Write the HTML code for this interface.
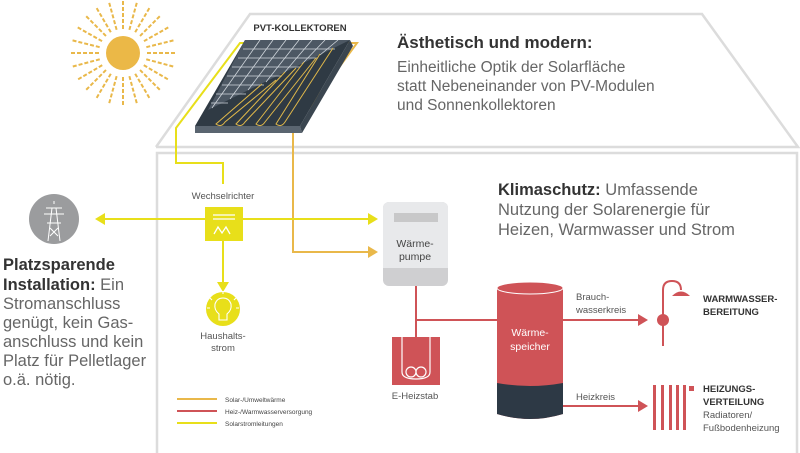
<!DOCTYPE html>
<html><head><meta charset="utf-8"><style>
body{margin:0;background:#fff;}
svg{display:block;font-family:"Liberation Sans",sans-serif;}
</style></head><body>
<svg width="800" height="453" viewBox="0 0 800 453" xmlns="http://www.w3.org/2000/svg">
<!-- house -->
<polyline points="156,147 250,14 702,14 798,147 156,147" fill="none" stroke="#dcdcdc" stroke-width="2.5"/>
<polyline points="157,453 157,153 797,153 797,453" fill="none" stroke="#dcdcdc" stroke-width="2.5"/>
<!-- sun -->
<g stroke="#e9b84a" stroke-width="2" stroke-dasharray="4,2">
<line x1="123" y1="53" x2="123" y2="0"/><line x1="123" y1="53" x2="137" y2="2"/><line x1="123" y1="53" x2="150" y2="7"/><line x1="123" y1="53" x2="160" y2="16"/><line x1="123" y1="53" x2="169" y2="27"/><line x1="123" y1="53" x2="175" y2="40"/>
<line x1="123" y1="53" x2="177" y2="53"/><line x1="123" y1="53" x2="175" y2="67"/><line x1="123" y1="53" x2="169" y2="80"/><line x1="123" y1="53" x2="160" y2="90"/><line x1="123" y1="53" x2="150" y2="99"/><line x1="123" y1="53" x2="137" y2="104"/>
<line x1="123" y1="53" x2="123" y2="107"/><line x1="123" y1="53" x2="109" y2="104"/><line x1="123" y1="53" x2="96" y2="99"/><line x1="123" y1="53" x2="86" y2="90"/><line x1="123" y1="53" x2="77" y2="80"/><line x1="123" y1="53" x2="71" y2="67"/>
<line x1="123" y1="53" x2="69" y2="53"/><line x1="123" y1="53" x2="71" y2="40"/><line x1="123" y1="53" x2="77" y2="27"/><line x1="123" y1="53" x2="86" y2="16"/><line x1="123" y1="53" x2="96" y2="7"/><line x1="123" y1="53" x2="109" y2="2"/>
</g>
<circle cx="123" cy="53" r="24" fill="#fff"/>
<circle cx="123" cy="53" r="17" fill="#ebb847"/>
<!-- PVT panel -->
<text x="300" y="31" font-size="9.5" font-weight="bold" fill="#333" text-anchor="middle">PVT-KOLLEKTOREN</text>
<polyline points="247,43 240,43 176,128 176,163 223,163 223,184" fill="none" stroke="#e8df1a" stroke-width="2"/>
<polyline points="348,43 357,43 293,130 293,252 372,252" fill="none" stroke="#e9b84a" stroke-width="2"/>
<polygon points="378,252 368,246 368,258" fill="#e9b84a"/>
<polygon points="195,126 300,126 302,133 195,133" fill="#5a6570"/>
<polygon points="350,40 353,46 302,133 300,126" fill="#3b4650"/>
<polygon points="245,40 350,40 300,126 195,126" fill="#2f3a44"/>
<polygon points="245,40 350,40 208,110" fill="#4d5864"/>
<g stroke="#d0d6dc" stroke-width="0.8">
<line x1="243" y1="49" x2="335" y2="49"/><line x1="238" y1="58" x2="318" y2="58"/><line x1="232" y1="67" x2="300" y2="67"/><line x1="227" y1="76" x2="282" y2="76"/><line x1="222" y1="85" x2="264" y2="85"/><line x1="216" y1="94" x2="246" y2="94"/><line x1="211" y1="103" x2="228" y2="103"/>
<line x1="260" y1="40" x2="212" y2="108"/><line x1="273" y1="40" x2="230" y2="99"/><line x1="286" y1="40" x2="248" y2="90"/><line x1="299" y1="40" x2="266" y2="82"/><line x1="312" y1="40" x2="284" y2="73"/><line x1="325" y1="40" x2="302" y2="64"/><line x1="338" y1="40" x2="320" y2="55"/>
</g>
<g fill="none" stroke="#e0b84a" stroke-width="1">
<path d="M333,48 L285,122 Q281,128 276,124 L320,54"/>
<path d="M316,58 L265,122 Q261,128 256,124 L304,62"/>
<path d="M296,68 L245,122 Q241,128 236,124 L285,72"/>
<path d="M276,80 L225,122 Q221,128 216,124 L262,84"/>
</g>
<!-- Texts top -->
<text x="397" y="48" font-size="17" font-weight="bold" fill="#333">Ästhetisch und modern:</text>
<g font-size="15.5" fill="#666">
<text x="397" y="72">Einheitliche Optik der Solarfläche</text>
<text x="397" y="91">statt Nebeneinander von PV-Modulen</text>
<text x="397" y="110">und Sonnenkollektoren</text>
</g>
<text x="498" y="195" font-size="16.5" fill="#666"><tspan font-weight="bold" fill="#333">Klimaschutz:</tspan> Umfassende</text>
<text x="498" y="215" font-size="16.5" fill="#666">Nutzung der Solarenergie für</text>
<text x="498" y="235" font-size="16.5" fill="#666">Heizen, Warmwasser und Strom</text>
<!-- left text -->
<g font-size="16.5" fill="#666">
<text x="3" y="270" font-weight="bold" fill="#333">Platzsparende</text>
<text x="3" y="290"><tspan font-weight="bold" fill="#333">Installation:</tspan> Ein</text>
<text x="3" y="309">Stromanschluss</text>
<text x="3" y="328">genügt, kein Gas-</text>
<text x="3" y="347">anschluss und kein</text>
<text x="3" y="366">Platz für Pelletlager</text>
<text x="3" y="385">o.ä. nötig.</text>
</g>
<!-- pylon -->
<circle cx="54" cy="219" r="25" fill="#9b9c9e"/>
<g stroke="#fff" stroke-width="1" fill="none">
<path d="M54,201 L54,204 M48,241 L52,208 L56,208 L60,241 M46,208 L62,208 M44,214 L64,214 M47,223 L61,223 M50,228 L58,236 M58,228 L50,236"/>
</g>
<!-- inverter lines -->
<line x1="98" y1="219" x2="372" y2="219" stroke="#e8df1a" stroke-width="2"/>
<polygon points="95,219 105,213 105,225" fill="#e8df1a"/>
<polygon points="378,219 368,213 368,225" fill="#e8df1a"/>
<text x="223" y="199" font-size="9.5" fill="#555" text-anchor="middle">Wechselrichter</text>
<rect x="205" y="207" width="38" height="34" fill="#e8df1a"/>
<g stroke="#fff" stroke-width="1.3" fill="none">
<line x1="213" y1="215" x2="235" y2="215"/><line x1="213" y1="219" x2="235" y2="219"/>
<path d="M214,234 L218,227 L222,233 L226,227 L230,234"/>
</g>
<line x1="223" y1="241" x2="223" y2="285" stroke="#e8df1a" stroke-width="2"/>
<polygon points="223,292 217,282 229,282" fill="#e8df1a"/>
<circle cx="223" cy="309" r="17" fill="#e8df1a"/>
<g stroke="#fff" stroke-width="1.1" fill="none">
<path d="M219,320 L219,314 Q214,310 215,304 Q217,298 223,298 Q229,298 231,304 Q232,310 227,314 L227,320 Z"/>
<path d="M223,294 L223,291 M212,300 L210,298 M234,300 L236,298 M210,308 L207,308 M236,308 L239,308"/>
</g>
<text x="223" y="339" font-size="9.5" fill="#555" text-anchor="middle">Haushalts-</text>
<text x="223" y="351" font-size="9.5" fill="#555" text-anchor="middle">strom</text>
<!-- Wärmepumpe -->
<rect x="383" y="202" width="65" height="84" rx="6" fill="#cfcfd1"/>
<rect x="383" y="202" width="65" height="72" rx="6" fill="#e8e9eb"/>
<rect x="383" y="268" width="65" height="6" fill="#cfcfd1"/>
<rect x="394" y="213" width="44" height="9" fill="#c8c8c9"/>
<text x="415" y="247" font-size="10.5" fill="#444" text-anchor="middle">Wärme-</text>
<text x="415" y="260" font-size="10.5" fill="#444" text-anchor="middle">pumpe</text>
<!-- red lines -->
<g stroke="#cf5357" stroke-width="2" fill="none">
<line x1="416" y1="286" x2="416" y2="340"/>
<line x1="416" y1="320" x2="500" y2="320"/>
<line x1="562" y1="320" x2="640" y2="320"/>
<line x1="562" y1="406" x2="640" y2="406"/>
<line x1="177" y1="411" x2="217" y2="411"/>
</g>
<polygon points="648,320 638,314 638,326" fill="#cf5357"/>
<polygon points="648,406 638,400 638,412" fill="#cf5357"/>
<!-- E-Heizstab -->
<rect x="392" y="337" width="48" height="48" fill="#cf5357"/>
<g stroke="#fff" stroke-width="1.2" fill="none">
<path d="M402,337 L402,372 M430,337 L430,372"/>
<circle cx="411" cy="372" r="5"/><circle cx="421" cy="372" r="5"/>
<path d="M402,372 Q402,379 416,379 Q430,379 430,372"/>
</g>
<text x="415" y="399" font-size="9.5" fill="#555" text-anchor="middle">E-Heizstab</text>
<!-- tank -->
<path d="M497,288 L497,414 Q530,424 563,414 L563,288 Z" fill="#cf5357"/>
<path d="M497,383 Q530,389 563,383 L563,414 Q530,424 497,414 Z" fill="#2d3945"/>
<ellipse cx="530" cy="288" rx="33" ry="6" fill="#cf5357" stroke="#fff" stroke-width="1"/>
<text x="530" y="336" font-size="10.5" fill="#fff" text-anchor="middle">Wärme-</text>
<text x="530" y="350" font-size="10.5" fill="#fff" text-anchor="middle">speicher</text>
<text x="576" y="300" font-size="9.5" fill="#555">Brauch-</text>
<text x="576" y="313" font-size="9.5" fill="#555">wasserkreis</text>
<text x="576" y="400" font-size="9.5" fill="#555">Heizkreis</text>
<!-- shower -->
<g stroke="#cf5357" stroke-width="2" fill="none">
<path d="M663,346 L663,290 Q663,281 672,281 Q681,281 681,290"/>
</g>
<path d="M672,296 Q681,287 690,296 Z" fill="#cf5357"/>
<circle cx="663" cy="320" r="6" fill="#cf5357"/>
<text x="703" y="302" font-size="9.5" font-weight="bold" fill="#333">WARMWASSER-</text>
<text x="703" y="315" font-size="9.5" font-weight="bold" fill="#333">BEREITUNG</text>
<!-- radiator -->
<g fill="#cf5357">
<rect x="653" y="385" width="3" height="45"/><rect x="661" y="385" width="3" height="45"/><rect x="669" y="385" width="3" height="45"/><rect x="676" y="385" width="3" height="45"/><rect x="683" y="385" width="3" height="45"/>
<rect x="689" y="386" width="5" height="5"/>
</g>
<text x="703" y="392" font-size="9.5" font-weight="bold" fill="#333">HEIZUNGS-</text>
<text x="703" y="405" font-size="9.5" font-weight="bold" fill="#333">VERTEILUNG</text>
<text x="703" y="418" font-size="9.5" fill="#555">Radiatoren/</text>
<text x="703" y="431" font-size="9.5" fill="#555">Fußbodenheizung</text>
<!-- legend -->
<line x1="177" y1="399" x2="217" y2="399" stroke="#e9b84a" stroke-width="2"/>
<line x1="177" y1="423" x2="217" y2="423" stroke="#e8df1a" stroke-width="2"/>
<g font-size="6.5" fill="#444">
<text x="225" y="402">Solar-/Umweltwärme</text>
<text x="225" y="414">Heiz-/Warmwasserversorgung</text>
<text x="225" y="426">Solarstromleitungen</text>
</g>
</svg>
</body></html>
